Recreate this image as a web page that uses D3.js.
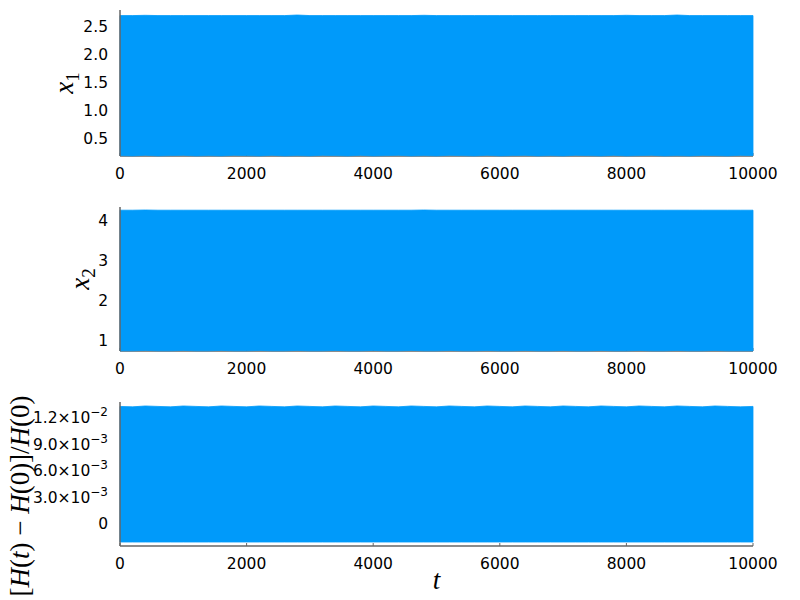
<!DOCTYPE html>
<html>
<head>
<meta charset="utf-8">
<script src="https://cdn.jsdelivr.net/npm/d3@7"></script>
<style>
  body { margin: 0; background: #fff; }
  .tick-label { font-family: "DejaVu Sans", sans-serif; font-size: 15.5px; fill: #000; }
  .axis-title { font-family: "Liberation Serif", serif; font-style: italic; fill: #000; }
</style>
</head>
<body>
<div id="chart-area"></div>
<script>
// Data: envelope of the fast oscillations, sampled every tStep
const tStep = 200;
const xTicks = [0, 2000, 4000, 6000, 8000, 10000];

const x1Upper = [2.70, 2.70, 2.705, 2.70, 2.70, 2.70, 2.70, 2.70, 2.70, 2.70, 2.70, 2.70, 2.70, 2.70, 2.71, 2.70, 2.70,
  2.70, 2.70, 2.70, 2.70, 2.70, 2.70, 2.70, 2.705, 2.70, 2.70, 2.70, 2.70, 2.70, 2.70, 2.70, 2.70, 2.70,
  2.70, 2.70, 2.70, 2.70, 2.70, 2.70, 2.705, 2.70, 2.70, 2.70, 2.71, 2.70, 2.70, 2.70, 2.70, 2.70, 2.70];
const x1Lower = [0.19, 0.185, 0.195, 0.185, 0.19, 0.195, 0.185, 0.19, 0.185, 0.195, 0.19, 0.185, 0.195, 0.185, 0.19,
  0.185, 0.195, 0.19, 0.185, 0.195, 0.185, 0.19, 0.195, 0.185, 0.19, 0.185, 0.195, 0.19, 0.185, 0.195, 0.185,
  0.19, 0.195, 0.185, 0.19, 0.185, 0.195, 0.19, 0.185, 0.195, 0.185, 0.19, 0.195, 0.185, 0.19, 0.185, 0.195,
  0.19, 0.185, 0.195, 0.19];
const x1Ticks = [0.5, 1.0, 1.5, 2.0, 2.5];

const x2Upper = [4.25, 4.25, 4.255, 4.25, 4.25, 4.25, 4.25, 4.25, 4.25, 4.25, 4.25, 4.25, 4.25, 4.25, 4.25, 4.25, 4.25,
  4.25, 4.25, 4.25, 4.25, 4.25, 4.25, 4.25, 4.255, 4.25, 4.25, 4.25, 4.25, 4.25, 4.25, 4.25, 4.25, 4.25,
  4.25, 4.25, 4.25, 4.25, 4.25, 4.25, 4.25, 4.25, 4.25, 4.25, 4.25, 4.25, 4.25, 4.25, 4.25, 4.25, 4.25];
const x2Lower = [0.73, 0.73, 0.74, 0.73, 0.73, 0.74, 0.73, 0.73, 0.74, 0.73, 0.73, 0.74, 0.73, 0.73, 0.74, 0.73, 0.73,
  0.74, 0.73, 0.73, 0.74, 0.73, 0.73, 0.74, 0.73, 0.73, 0.74, 0.73, 0.73, 0.74, 0.73, 0.73, 0.74, 0.73,
  0.73, 0.74, 0.73, 0.73, 0.74, 0.73, 0.73, 0.74, 0.73, 0.73, 0.74, 0.73, 0.73, 0.74, 0.73, 0.73, 0.73];
const x2Ticks = [1, 2, 3, 4];

const hUpper = [0.01330, 0.01325, 0.01335, 0.01330, 0.01325, 0.01335, 0.01330, 0.01325, 0.01335, 0.01330, 0.01325,
  0.01335, 0.01330, 0.01325, 0.01335, 0.01330, 0.01325, 0.01335, 0.01330, 0.01325, 0.01335, 0.01330, 0.01325,
  0.01335, 0.01330, 0.01325, 0.01335, 0.01330, 0.01325, 0.01335, 0.01330, 0.01325, 0.01335, 0.01330, 0.01325,
  0.01335, 0.01330, 0.01325, 0.01335, 0.01330, 0.01325, 0.01335, 0.01330, 0.01325, 0.01335, 0.01330, 0.01325,
  0.01335, 0.01330, 0.01325, 0.01330];
const hLower = [-0.00205, -0.00205, -0.00205, -0.00205, -0.00205, -0.00205, -0.00205, -0.00205, -0.00205, -0.00205,
  -0.00205, -0.00205, -0.00205, -0.00205, -0.00205, -0.00205, -0.00205, -0.00205, -0.00205, -0.00205, -0.00205,
  -0.00205, -0.00205, -0.00205, -0.00205, -0.00205, -0.00205, -0.00205, -0.00205, -0.00205, -0.00205, -0.00205,
  -0.00205, -0.00205, -0.00205, -0.00205, -0.00205, -0.00205, -0.00205, -0.00205, -0.00205, -0.00205, -0.00205,
  -0.00205, -0.00205, -0.00205, -0.00205, -0.00205, -0.00205, -0.00205, -0.00205];
const hTicks = [0, 0.003, 0.006, 0.009, 0.012];
const hTickMantissa = ["0", "3.0", "6.0", "9.0", "1.2"];
const hTickExponent = ["", "\u22123", "\u22123", "\u22123", "\u22122"];

const lineColor = "#009AFA";
const axisColor = "#666";

let width = 800, height = 600;
let left = 120, right = 753;

let svg = d3
  .select("#chart-area")
  .append("svg")
  .attr("width", width)
  .attr("height", height);

let x = d3.scaleLinear().domain([0, 10000]).range([left, right]);

function drawPanel(top, bottom, yDomain, upper, lower, yTickText) {
  let y = d3.scaleLinear().domain(yDomain).range([bottom, top]);
  let g = svg.append("g");

  // bottom axis line + ticks
  g.append("line")
    .attr("x1", left).attr("x2", right)
    .attr("y1", bottom).attr("y2", bottom)
    .attr("stroke", axisColor).attr("stroke-width", 1.5);
  g.selectAll(".xtick").data(xTicks).enter().append("line")
    .attr("x1", d => x(d)).attr("x2", d => x(d))
    .attr("y1", bottom).attr("y2", bottom - 3)
    .attr("stroke", axisColor).attr("stroke-width", 1);
  g.selectAll(".xlabel").data(xTicks).enter().append("text")
    .attr("class", "tick-label")
    .attr("x", d => x(d))
    .attr("y", bottom + 17)
    .attr("dy", "0.36em")
    .attr("text-anchor", "middle")
    .text(d => d);

  // the dense oscillation, drawn as its envelope
  let area = d3.area()
    .x((d, i) => x(i * tStep))
    .y0((d, i) => y(lower[i]))
    .y1(d => y(d));
  g.append("path")
    .datum(upper)
    .attr("d", area)
    .attr("fill", lineColor)
    .attr("stroke", lineColor)
    .attr("stroke-width", 0.8);

  // left axis line
  g.append("line")
    .attr("x1", left).attr("x2", left)
    .attr("y1", top).attr("y2", bottom)
    .attr("stroke", axisColor).attr("stroke-width", 1.5);

  yTickText(g, y);
  return y;
}

// panel 1
drawPanel(10, 156, [0.183, 2.80], x1Upper, x1Lower, (g, y) => {
  g.selectAll(".ylabel").data(x1Ticks).enter().append("text")
    .attr("class", "tick-label")
    .attr("x", 108)
    .attr("y", d => y(d))
    .attr("dy", "0.36em")
    .attr("text-anchor", "end")
    .text(d => d.toFixed(1));
});

// panel 2
drawPanel(207, 351, [0.725, 4.33], x2Upper, x2Lower, (g, y) => {
  g.selectAll(".ylabel").data(x2Ticks).enter().append("text")
    .attr("class", "tick-label")
    .attr("x", 108)
    .attr("y", d => y(d))
    .attr("dy", "0.36em")
    .attr("text-anchor", "end")
    .text(d => d);
});

// panel 3
drawPanel(402, 546, [-0.0025, 0.0138], hUpper, hLower, (g, y) => {
  let t = g.selectAll(".ylabel").data(hTicks).enter().append("text")
    .attr("class", "tick-label")
    .attr("x", 108)
    .attr("y", d => y(d))
    .attr("dy", "0.36em")
    .attr("text-anchor", "end");
  t.append("tspan").text((d, i) => i == 0 ? hTickMantissa[i] : hTickMantissa[i] + "\u00d710");
  t.filter((d, i) => i > 0).append("tspan")
    .attr("dy", "-0.6em")
    .style("font-size", "12px")
    .text((d, i) => hTickExponent[i + 1]);
});

// axis titles
function yTitle(cx, cy, size, parts) {
  let t = svg.append("text")
    .attr("class", "axis-title")
    .attr("transform", "translate(" + cx + "," + cy + ") rotate(-90)")
    .attr("text-anchor", "middle")
    .style("font-size", size + "px");
  parts.forEach(p => {
    let s = t.append("tspan").text(p.text);
    if (p.upright) s.style("font-style", "normal");
    if (p.sub) s.attr("dy", "0.3em").style("font-size", (size * 0.7) + "px").style("font-style", "normal");
  });
}

yTitle(73, 83, 27, [{ text: "x" }, { text: "1", sub: true }]);
yTitle(89, 279, 27, [{ text: "x" }, { text: "2", sub: true }]);
yTitle(29, 496, 27, [
  { text: "[", upright: true }, { text: "H" }, { text: "(", upright: true }, { text: "t" },
  { text: ")", upright: true }, { text: "\u00a0\u2212\u00a0", upright: true }, { text: "H" },
  { text: "(0)]/", upright: true }, { text: "H" }, { text: "(0)", upright: true }
]);

svg.append("text")
  .attr("class", "axis-title")
  .attr("x", (left + right) / 2)
  .attr("y", 589)
  .attr("text-anchor", "middle")
  .style("font-size", "27px")
  .text("t");
</script>
</body>
</html>
